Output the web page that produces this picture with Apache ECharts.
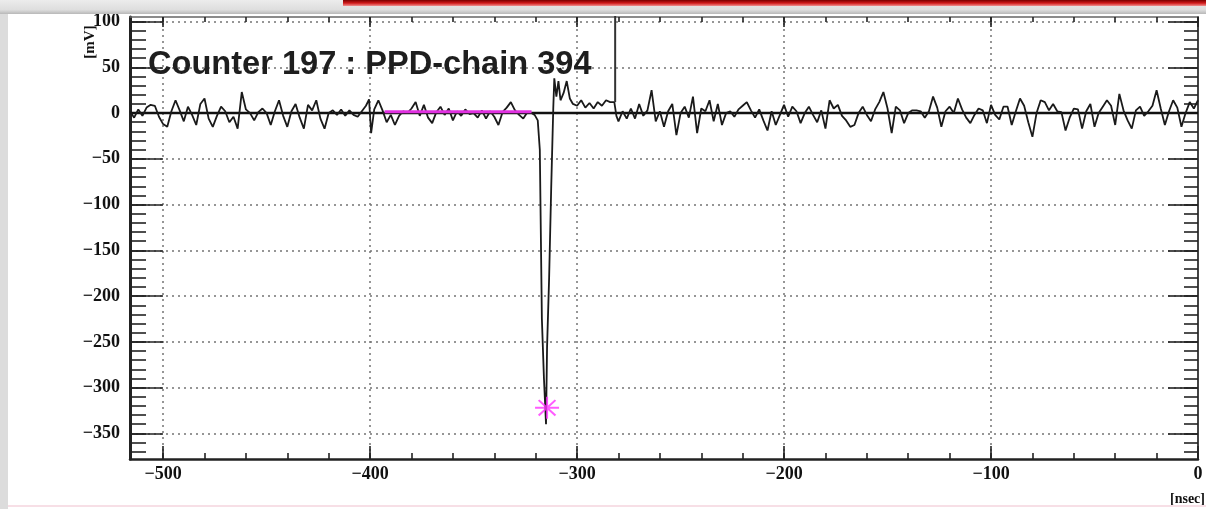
<!DOCTYPE html>
<html>
<head>
<meta charset="utf-8">
<script src="https://cdn.jsdelivr.net/npm/echarts@6/dist/echarts.min.js"></script>
<style>
  html, body { margin: 0; padding: 0; background: #ffffff; }
  #chart { width: 1206px; height: 509px; }
</style>
</head>
<body>
<div id="chart"></div>
<script>
// ---- data ----
const titleText = 'Counter 197 : PPD-chain 394';
const xTitle = '[nsec]';
const yTitle = '[mV]';
const xRange = [-516, 0];
const yRange = [-378, 105];
const xTicks = [-500, -400, -300, -200, -100, 0];
const yTicks = [-350, -300, -250, -200, -150, -100, -50, 0, 50, 100];

// waveform before the pulse [t (ns), amplitude (mV)]
const noiseBefore = [
  [-516,2],[-514,-5],[-512,4],[-510,-3],[-508,6],[-506,9],[-504,8],[-502,-4],[-500,-12],[-498,-15],
  [-496,2],[-494,14],[-492,3],[-490,-9],[-488,7],[-486,-2],[-484,-13],[-482,10],[-480,16],[-478,-6],
  [-476,-15],[-474,-3],[-472,7],[-470,2],[-468,-10],[-466,-4],[-464,-17],[-462,23],[-460,4],[-458,0],
  [-456,-8],[-454,1],[-452,5],[-450,0],[-448,-13],[-446,2],[-444,14],[-442,-3],[-440,-15],[-438,2],
  [-436,10],[-434,-5],[-432,-17],[-430,9],[-428,3],[-426,14],[-424,-6],[-422,-17],[-420,0],[-418,3],
  [-416,-2],[-414,4],[-412,-3],[-410,3],[-408,-2],[-406,-4],[-404,2],[-402,8],[-400.5,15],[-399.5,-22],
  [-398,4],[-396,14],[-394,3],[-392,-10],[-390,-2],[-388,-13],[-386,-3],[-384,2],[-382,0],[-380,5],
  [-378,12],[-376,-3],[-374,9],[-372,-5],[-370,-11],[-368,1],[-366,7],[-364,-2],[-362,5],[-360,-8],
  [-358,2],[-356,-3],[-354,4],[-352,-1],[-350,0],[-348,-5],[-346,3],[-344,-6],[-342,2],[-340,-4],
  [-338,-13],[-336,1],[-334,6],[-332,12],[-330,3],[-328,-2],[-326,-6],[-324,1],[-322,0]
];
// the pulse and its overshoot
const pulse = [
  [-320.5,-2],[-319,-8],[-318,-40],[-317,-225],[-316,-290],[-315,-340],[-314.5,-256],[-313.5,-180],
  [-312.5,-82],[-311.5,5],[-311,38],[-310,18],[-309,35],[-308,14],[-306.5,22],[-305,35],[-303.5,16],
  [-302,10],[-300,8],[-298,14],[-296,6],[-294,11],[-292,5],[-290,12],[-288,8],[-286,14],[-284,12],
  [-282,12],[-281,-3]
];
// waveform after the pulse
const noiseAfter = [
  [-280,-9],[-278,2],[-276,-6],[-274,5],[-272,-6],[-270,10],[-268,-3],[-266,3],[-264,25],[-262,-9],
  [-260,2],[-258,-15],[-256,2],[-254,10],[-252,-24],[-250,0],[-248,7],[-246,-5],[-244,18],[-242,-22],
  [-240,5],[-238,2],[-236,14],[-234,-9],[-232,10],[-230,-13],[-228,0],[-226,2],[-224,-4],[-222,4],
  [-220,8],[-218,12],[-216,3],[-214,-5],[-212,4],[-210,-8],[-208,-19],[-206,2],[-204,-13],[-202,-2],
  [-200,9],[-198,-4],[-196,7],[-194,2],[-192,-11],[-190,0],[-188,7],[-186,-2],[-184,-10],[-182,3],
  [-180,-17],[-178,14],[-176,5],[-174,9],[-172,-3],[-170,-8],[-168,-15],[-166,-13],[-164,0],[-162,7],
  [-160,-2],[-158,-9],[-156,4],[-154,12],[-152,23],[-150,5],[-148,-22],[-146,7],[-144,3],[-142,-11],
  [-140,0],[-138,3],[-136,3],[-134,2],[-132,-5],[-130,2],[-128,18],[-126,6],[-124,-15],[-122,2],
  [-120,7],[-118,0],[-116,16],[-114,4],[-112,-5],[-110,-11],[-108,-2],[-106,5],[-104,3],[-102,-11],
  [-100,9],[-98,-2],[-96,-7],[-94,7],[-92,7],[-90,-13],[-88,2],[-86,16],[-84,8],[-82,-10],
  [-80,-26],[-78,0],[-76,14],[-74,12],[-72,3],[-70,10],[-68,2],[-66,1],[-64,-19],[-62,-5],
  [-60,5],[-58,4],[-56,-17],[-54,2],[-52,10],[-50,-15],[-48,0],[-46,7],[-44,14],[-42,8],
  [-40,-13],[-38,21],[-36,3],[-34,-8],[-32,-17],[-30,3],[-28,7],[-26,-3],[-24,2],[-22,8],
  [-20,25],[-18,5],[-16,-13],[-14,2],[-12,14],[-10,6],[-8,-15],[-6,0],[-4,12],[-2,5],[0,14]
];
const baselineWindow = [-393, -322];   // magenta pedestal window
const baselineLevel = 1.5;
const peakPoint = [-314.5, -322];      // magenta star
const gateTime = -281.6;               // vertical gate line
const gateFrom = 12;

// ---- build ----
const wave = noiseBefore.concat(pulse, noiseAfter);
const xMinor = [];
for (let v = -500; v <= 0; v += 20) xMinor.push(v);
const yMinor = [];
for (let v = -370; v <= 100; v += 10) yMinor.push(v);
const minus = v => String(v).replace('-', '\u2212');

const G = { left: 130, right: 8, top: 17, bottom: 50 };
const labelFont = { fontFamily: 'Liberation Serif', fontWeight: 'bold', fontSize: 18, color: '#111' };
const gridLine = { show: true, lineStyle: { type: [2, 4], color: '#747474', width: 1.5 } };
const off = { show: false };
const lineOff = { show: false, onZero: false };

function xAx(grid, pos, ticks, len, opts) {
  return Object.assign({
    type: 'value', gridIndex: grid, position: pos, min: xRange[0], max: xRange[1],
    axisLine: lineOff, splitLine: off, axisLabel: off,
    axisTick: { show: true, inside: true, length: len, customValues: ticks, lineStyle: { color: '#222', width: 1.6 } }
  }, opts || {});
}
function yAx(grid, pos, ticks, len, opts) {
  return Object.assign({
    type: 'value', gridIndex: grid, position: pos, min: yRange[0], max: yRange[1],
    axisLine: lineOff, splitLine: off, axisLabel: off,
    axisTick: { show: true, inside: true, length: len, customValues: ticks, lineStyle: { color: '#222', width: 1.6 } }
  }, opts || {});
}

const option = {
  animation: false,
  backgroundColor: '#ffffff',
  grid: [Object.assign({}, G), Object.assign({}, G), Object.assign({}, G), Object.assign({}, G)],
  xAxis: [
    xAx(0, 'bottom', xTicks, 13, {
      axisLine: { show: true, onZero: false, lineStyle: { color: '#222', width: 2.5 } },
      axisLabel: Object.assign({ show: true, customValues: xTicks, formatter: minus, margin: 6 }, labelFont),
      splitLine: gridLine
    }),
    xAx(1, 'bottom', xMinor, 6),
    xAx(2, 'top', xTicks, 10, { axisLine: { show: true, onZero: false, lineStyle: { color: '#666', width: 1.5 } } }),
    xAx(3, 'top', xMinor, 5)
  ],
  yAxis: [
    yAx(0, 'left', yTicks, 33, {
      axisLine: { show: true, onZero: false, lineStyle: { color: '#222', width: 3 } },
      axisLabel: Object.assign({ show: true, customValues: yTicks, formatter: minus, margin: 10 }, labelFont),
      splitLine: gridLine
    }),
    yAx(1, 'left', yMinor, 16),
    yAx(2, 'right', yTicks, 30, { axisLine: { show: true, onZero: false, lineStyle: { color: '#444', width: 2 } } }),
    yAx(3, 'right', yMinor, 14)
  ],
  series: [
    { type: 'line', xAxisIndex: 0, yAxisIndex: 0, data: [[xRange[0], 0], [xRange[1], 0]],
      showSymbol: false, lineStyle: { color: '#111', width: 2.5 }, z: 2, silent: true },
    { type: 'line', xAxisIndex: 0, yAxisIndex: 0, data: wave, showSymbol: false,
      lineStyle: { color: '#1a1a1a', width: 1.8 }, z: 3, silent: true },
    { type: 'line', xAxisIndex: 0, yAxisIndex: 0, data: [[gateTime, gateFrom], [gateTime, yRange[1] + 10]],
      showSymbol: false, lineStyle: { color: '#333', width: 2 }, z: 3, silent: true },
    { type: 'line', xAxisIndex: 0, yAxisIndex: 0,
      data: [[baselineWindow[0], baselineLevel], [baselineWindow[1], baselineLevel]],
      showSymbol: false, lineStyle: { color: '#e030e0', width: 3 }, z: 4, silent: true },
    { type: 'scatter', xAxisIndex: 0, yAxisIndex: 0, data: [peakPoint],
      symbol: 'path://M0,10L20,10M10,0L10,20M3,3L17,17M17,3L3,17', symbolSize: [24, 22],
      itemStyle: { color: 'none', borderColor: '#ff33ff', borderWidth: 2 }, z: 5, silent: true }
  ],
  graphic: [
    { type: 'text', left: 148, top: 49, z: 50, silent: true,
      style: { text: titleText, font: 'bold 32.6px "Liberation Sans"', fill: '#1e1e1e' } },
    { type: 'text', x: 90, y: 42, rotation: Math.PI / 2, z: 50, silent: true,
      style: { text: yTitle, font: 'bold 15px "Liberation Serif"', fill: '#111', align: 'center', verticalAlign: 'middle' } },
    { type: 'text', x: 1205, y: 499, z: 50, silent: true,
      style: { text: xTitle, font: 'bold 14px "Liberation Serif"', fill: '#111', align: 'right', verticalAlign: 'middle' } },
    // screenshot surroundings
    { type: 'rect', shape: { x: 0, y: 0, width: 8, height: 509 }, z: 60, silent: true, style: { fill: '#dcdcdc' } },
    { type: 'rect', shape: { x: 0, y: 0, width: 1206, height: 14 }, z: 60, silent: true,
      style: { fill: { type: 'linear', x: 0, y: 0, x2: 0, y2: 1,
        colorStops: [{ offset: 0, color: '#ececec' }, { offset: 0.7, color: '#dedede' }, { offset: 1, color: '#b8b8b8' }] } } },
    { type: 'rect', shape: { x: 343, y: 0, width: 863, height: 6 }, z: 61, silent: true,
      style: { fill: { type: 'linear', x: 0, y: 0, x2: 0, y2: 1,
        colorStops: [{ offset: 0, color: '#7a0000' }, { offset: 0.5, color: '#d01818' }, { offset: 1, color: '#f29090' }] } } },
    { type: 'rect', shape: { x: 8, y: 505, width: 1198, height: 2 }, z: 60, silent: true, style: { fill: '#f7dfe6' } }
  ]
};
const chart = echarts.init(document.getElementById('chart'), null, { renderer: 'canvas' });
chart.setOption(option);
</script>
</body>
</html>
